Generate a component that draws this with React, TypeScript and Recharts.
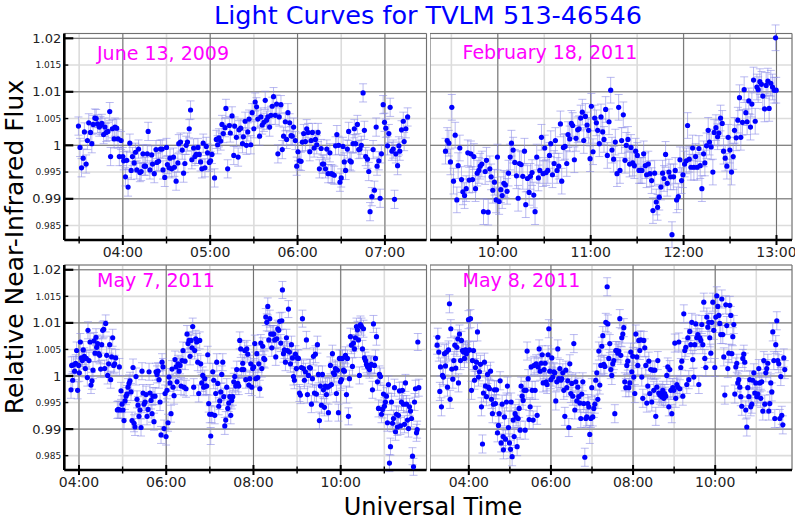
import React from "react";
import { ScatterChart, Scatter, XAxis, YAxis, CartesianGrid, ErrorBar } from "recharts";

// y axis: flux ticks (major ones get big labels, minor ones small)
const yMajor = [0.99, 1, 1.01, 1.02];
const yMinor = [0.985, 0.995, 1.005, 1.015];
const yDomain: [number, number] = [0.9823, 1.0209];

// x axis: hours (UT)
const juneMajor = [4, 5, 6, 7];
const juneMinor = [3.5, 4.5, 5.5, 6.5];
const febMajor = [10, 11, 12, 13];
const febMinor = [9.5, 10.5, 11.5, 12.5];
const mayMajor = [4, 6, 8, 10];
const mayMinor = [5, 7, 9, 11];

// typical 1-sigma error per night
const errJune = 0.0017;
const errFeb = 0.0024;
const errMay7 = 0.0016;
const errMay8 = 0.0017;

// [hour UT, relative flux]
const june13: [number, number][] = [
  [3.492,1.0036],[3.51,0.9996],[3.527,0.9958],[3.546,0.9976],[3.56,1.0025],[3.58,0.9965],[3.595,1.0009],[3.61,1.0042],[3.63,1.0024],[3.645,1.0003],[3.66,1.0039],[3.68,1.0051],[3.695,1.005],[3.71,1.004],[3.73,1.0034],[3.745,1.0037],[3.76,1.0041],[3.78,1.002],[3.795,1.0034],[3.81,1.0024],[3.83,1.0026],[3.85,1.0063],[3.86,0.9979],[3.88,1.0031],[3.9,1.0012],[3.91,1.0034],[3.93,1.0032],[3.945,1.0012],[3.96,0.9979],[3.98,1.0009],
  [4.0,0.9979],[4.01,0.9971],[4.03,0.9941],[4.045,0.9972],[4.06,0.9922],[4.08,1.0004],[4.095,0.9953],[4.11,0.9979],[4.13,0.9967],[4.145,0.9987],[4.16,0.9954],[4.18,0.9993],[4.195,0.9949],[4.21,0.9951],[4.23,0.9984],[4.245,0.9961],[4.26,0.9961],[4.28,0.9984],[4.29,1.0026],[4.31,0.9954],[4.33,0.9982],[4.34,0.9965],[4.36,0.9947],[4.38,0.9992],[4.39,0.9968],[4.41,0.997],[4.43,0.9993],[4.45,0.9993],[4.46,0.9954],[4.48,0.994],
  [4.5,0.9996],[4.51,0.9964],[4.53,0.9958],[4.54,0.9976],[4.56,0.9956],[4.58,0.9978],[4.59,0.9959],[4.61,0.9933],[4.63,0.9967],[4.64,1.0003],[4.66,1.0006],[4.68,0.9991],[4.695,0.9948],[4.71,0.9966],[4.725,1.0],[4.74,1.0006],[4.76,1.0031],[4.775,1.0066],[4.79,0.9973],[4.81,0.9995],[4.825,0.9979],[4.84,0.9983],[4.86,0.9996],[4.875,0.9983],[4.89,0.9969],[4.905,0.9956],[4.92,1.0004],[4.94,0.9958],[4.955,0.9998],[4.97,0.9986],
  [4.99,0.9968],[5.005,0.9971],[5.02,0.9983],[5.05,0.9939],[5.07,1.0011],[5.085,1.0001],[5.1,1.0014],[5.12,1.0008],[5.135,1.0039],[5.15,1.0022],[5.17,1.0033],[5.18,1.0069],[5.2,0.9956],[5.22,1.0037],[5.23,1.0023],[5.25,1.0055],[5.27,0.9981],[5.28,1.0036],[5.3,1.0015],[5.32,0.9978],[5.33,1.0029],[5.35,1.0032],[5.37,1.0003],[5.38,1.0016],[5.4,1.0045],[5.415,1.0],[5.43,1.0025],[5.445,1.0049],[5.465,1.0001],[5.48,1.0061],
  [5.5,1.0031],[5.515,1.0081],[5.53,1.0072],[5.545,1.0049],[5.565,1.0017],[5.58,1.0053],[5.595,1.0038],[5.615,1.0043],[5.63,1.0084],[5.645,1.0047],[5.66,1.0053],[5.68,1.0034],[5.695,1.0056],[5.71,1.0073],[5.725,1.0091],[5.745,1.0056],[5.76,1.0077],[5.775,0.9984],[5.79,1.0053],[5.81,1.0076],[5.825,0.9992],[5.84,1.0017],[5.86,1.0044],[5.875,1.0011],[5.89,1.0061],[5.91,1.0042],[5.925,1.0018],[5.94,1.0017],[5.955,1.0034],[5.975,1.0009],
  [5.99,0.9961],[6.005,0.9988],[6.02,0.9971],[6.04,0.997],[6.055,1.0006],[6.07,1.0022],[6.09,1.0007],[6.105,1.0031],[6.12,1.0024],[6.14,0.9988],[6.155,1.0009],[6.17,1.0024],[6.19,0.9995],[6.205,1.0011],[6.22,1.0001],[6.235,1.0024],[6.25,0.9956],[6.27,0.9994],[6.285,0.9965],[6.3,0.9965],[6.32,0.9956],[6.335,0.9993],[6.35,0.9947],[6.37,0.9986],[6.385,0.9947],[6.4,0.9946],[6.42,0.9944],[6.435,0.9999],[6.45,1.002],[6.47,1.0],
  [6.485,0.9931],[6.5,0.9939],[6.52,0.9998],[6.535,0.9969],[6.55,0.9953],[6.57,0.9993],[6.585,1.0026],[6.6,0.9971],[6.615,0.9969],[6.635,1.0003],[6.65,1.0031],[6.665,1.0003],[6.685,1.0039],[6.7,0.9992],[6.715,0.9993],[6.73,1.0],[6.75,1.0098],[6.765,1.0028],[6.78,0.9979],[6.8,0.9974],[6.815,0.9951],[6.83,0.9876],[6.85,0.9904],[6.865,0.9992],[6.88,0.9916],[6.9,1.0034],[6.91,0.9961],[6.93,0.9971],[6.945,0.9901],[6.96,0.9984],
  [6.98,1.0076],[6.995,1.0043],[7.01,1.0032],[7.03,0.9999],[7.045,1.0022],[7.06,1.0071],[7.08,0.9989],[7.095,0.9993],[7.11,0.9899],[7.125,0.9984],[7.145,0.9962],[7.16,0.9999],[7.17,0.9989],[7.19,1.0029],[7.21,1.0045],[7.22,1.0007],[7.24,1.0031],[7.26,1.0053],
];

const feb18: [number, number][] = [
  [9.437,0.9989],[9.455,1.0009],[9.473,1.0004],[9.49,0.9969],[9.505,1.0071],[9.523,0.9933],[9.541,1.0019],[9.559,0.9898],[9.573,0.9962],[9.591,0.9995],[9.609,0.9936],[9.624,0.9913],[9.642,0.9906],[9.66,0.9919],[9.677,0.9986],[9.692,0.9935],[9.71,0.9984],[9.728,0.9936],[9.742,0.9979],[9.76,0.9919],[9.778,0.9948],[9.796,0.9953],[9.81,0.9961],[9.828,0.9965],[9.846,0.9876],[9.864,0.9951],[9.878,0.9972],[9.896,0.9875],[9.914,0.9956],[9.928,0.9941],
  [9.946,0.9916],[9.964,0.9931],[9.982,0.9898],[9.996,0.9978],[10.014,0.9895],[10.032,0.9917],[10.047,0.9906],[10.065,0.9929],[10.082,0.9926],[10.1,0.9914],[10.115,0.9948],[10.133,0.9978],[10.147,1.0004],[10.165,0.9991],[10.183,0.9968],[10.201,0.9943],[10.219,0.9901],[10.233,0.9966],[10.251,0.9964],[10.269,0.9942],[10.287,0.9989],[10.301,0.9889],[10.319,0.9938],[10.337,0.9912],[10.351,0.9942],[10.369,0.9949],[10.387,0.9907],[10.401,0.9876],[10.419,0.9978],[10.437,0.9939],
  [10.452,0.9953],[10.47,1.0015],[10.487,0.9947],[10.505,0.9995],[10.52,0.9949],[10.538,0.9953],[10.556,0.9981],[10.57,1.0003],[10.588,0.9945],[10.606,0.9966],[10.62,1.0009],[10.638,0.9953],[10.656,0.9961],[10.674,1.004],[10.688,0.9933],[10.706,0.9996],[10.724,0.9998],[10.742,0.9966],[10.756,1.002],[10.774,1.0012],[10.792,1.0041],[10.806,1.0037],[10.824,0.9973],[10.842,1.0013],[10.86,1.0029],[10.875,1.0031],[10.892,1.0051],[10.91,1.0062],[10.925,1.0009],[10.943,1.0054],
  [10.961,1.0038],[10.978,1.0028],[10.993,0.9975],[11.007,1.0073],[11.025,0.9988],[11.043,1.0051],[11.061,1.0042],[11.075,1.0028],[11.093,1.0003],[11.111,1.0053],[11.129,1.0025],[11.143,1.0011],[11.161,1.0067],[11.179,0.9981],[11.197,1.0044],[11.215,1.0103],[11.229,0.9991],[11.247,0.9974],[11.265,1.0006],[11.283,0.9947],[11.301,1.0071],[11.315,0.9953],[11.333,1.0009],[11.351,1.0057],[11.369,0.9972],[11.383,1.0],[11.401,1.0011],[11.419,0.9965],[11.434,0.9996],[11.452,0.9967],
  [11.47,0.9962],[11.484,0.9989],[11.502,0.9981],[11.52,0.9953],[11.538,0.9953],[11.552,0.9953],[11.57,0.9984],[11.588,0.9962],[11.602,0.9945],[11.62,0.9965],[11.638,0.9947],[11.656,0.9934],[11.67,0.9878],[11.688,0.9948],[11.706,0.9894],[11.72,0.9884],[11.738,0.9903],[11.756,0.9922],[11.774,0.9948],[11.789,0.9938],[11.806,0.9983],[11.824,0.9929],[11.842,0.995],[11.86,0.9941],[11.875,0.9833],[11.892,0.9941],[11.91,0.9953],[11.925,0.9898],[11.943,0.9904],[11.961,0.9973],
  [11.978,0.9934],[11.993,0.9945],[12.011,0.9965],[12.029,0.9971],[12.043,1.0037],[12.061,0.9974],[12.079,0.9959],[12.097,0.9995],[12.111,0.9959],[12.129,0.9979],[12.147,0.9959],[12.165,0.9994],[12.179,0.9962],[12.197,0.9919],[12.215,0.9984],[12.229,0.9967],[12.247,0.9999],[12.265,1.0028],[12.279,1.0006],[12.297,0.9997],[12.315,0.995],[12.329,1.0024],[12.348,1.0033],[12.366,1.0016],[12.38,1.0023],[12.398,1.0051],[12.416,1.0041],[12.43,0.9989],[12.448,0.9976],[12.466,0.9961],
  [12.48,1.0015],[12.498,0.9991],[12.516,0.995],[12.534,0.9979],[12.548,1.0028],[12.566,1.0014],[12.584,1.0047],[12.602,1.0089],[12.616,1.0015],[12.634,1.0043],[12.652,1.0104],[12.67,1.0061],[12.684,1.0044],[12.702,1.0083],[12.72,1.0034],[12.735,1.0077],[12.753,1.0122],[12.771,1.0045],[12.789,1.0109],[12.803,1.0104],[12.821,1.0119],[12.839,1.0114],[12.853,1.0092],[12.871,1.0068],[12.889,1.0112],[12.907,1.012],[12.921,1.0069],[12.939,1.0116],[12.957,1.0109],[12.975,1.0103],
  [12.99,1.0201],[12.997,1.0103],
];

const may7: [number, number][] = [
  [3.817,0.9974],[3.832,1.002],[3.855,0.9992],[3.878,1.0021],[3.9,1.0009],[3.924,1.0024],[3.946,1.0048],[3.969,0.9973],[3.992,1.002],[4.008,1.0006],[4.031,1.0064],[4.053,1.0034],[4.076,1.0029],[4.099,1.0049],[4.122,1.0037],[4.145,1.0014],[4.168,1.0033],[4.191,0.9997],[4.206,1.0086],[4.229,1.0029],[4.252,1.0064],[4.275,0.9983],[4.298,0.9991],[4.321,1.0011],[4.344,1.0066],[4.367,1.0043],[4.39,1.0073],[4.405,1.0054],[4.428,1.0061],[4.451,1.0042],
  [4.474,1.0039],[4.497,1.0013],[4.52,1.0059],[4.543,1.0086],[4.566,1.0088],[4.589,1.0014],[4.612,1.0099],[4.635,1.0039],[4.657,1.0001],[4.68,1.0023],[4.703,1.0059],[4.726,0.9993],[4.749,1.0036],[4.772,1.0072],[4.795,1.002],[4.818,1.0023],[4.841,1.0034],[4.879,0.9936],[4.902,0.9937],[4.925,1.0017],[4.94,0.9936],[4.963,0.9972],[4.986,0.9947],[5.009,0.9936],[5.032,0.9916],[5.055,0.9953],[5.078,0.9962],[5.101,0.9966],[5.124,0.9979],[5.147,0.9986],
  [5.17,0.9991],[5.193,0.997],[5.216,0.9916],[5.239,1.0016],[5.262,0.9911],[5.284,0.9904],[5.307,0.9999],[5.33,0.9956],[5.353,0.9945],[5.376,0.9924],[5.399,0.9936],[5.422,0.9903],[5.445,1.0009],[5.468,0.9968],[5.491,0.9947],[5.514,0.9951],[5.537,0.9965],[5.56,0.9924],[5.583,0.9937],[5.606,1.0008],[5.628,0.9968],[5.651,0.9954],[5.674,0.9929],[5.697,0.9962],[5.72,0.9914],[5.743,0.9962],[5.766,1.0008],[5.789,1.0003],[5.812,1.0009],[5.835,0.9993],
  [5.858,0.9951],[5.881,0.9889],[5.904,1.0026],[5.927,1.0017],[5.95,0.9901],[5.973,0.9967],[5.996,0.9886],[6.018,0.9973],[6.041,0.9912],[6.064,0.9998],[6.087,0.9987],[6.11,0.9929],[6.133,1.0013],[6.156,0.9979],[6.179,0.9963],[6.202,1.0031],[6.225,1.0017],[6.248,0.9989],[6.271,1.0023],[6.294,1.0009],[6.317,1.002],[6.34,0.9981],[6.363,1.0029],[6.385,1.0048],[6.408,0.9979],[6.431,1.0028],[6.454,0.9976],[6.477,1.0079],[6.5,1.0061],[6.523,1.0067],
  [6.546,1.0037],[6.569,1.0067],[6.592,1.0053],[6.607,1.0093],[6.63,0.9979],[6.653,1.0048],[6.676,1.007],[6.699,1.0064],[6.722,1.0026],[6.745,0.9967],[6.768,1.0067],[6.791,1.0023],[6.814,0.9987],[6.836,1.0001],[6.859,0.9979],[6.882,0.9995],[6.905,0.9981],[6.928,0.9981],[6.951,1.004],[6.974,0.9948],[6.997,0.9928],[7.02,0.9887],[7.043,0.9928],[7.066,1.0008],[7.089,0.9992],[7.112,0.9926],[7.135,0.9967],[7.158,1.0026],[7.181,0.9986],[7.204,0.9943],
  [7.227,0.9953],[7.25,0.997],[7.273,1.0003],[7.296,1.0026],[7.319,0.9961],[7.342,0.9906],[7.364,0.9917],[7.387,0.9979],[7.41,0.9939],[7.433,0.9949],[7.456,0.9961],[7.479,0.9926],[7.502,0.9954],[7.525,0.9961],[7.548,0.9989],[7.571,0.9999],[7.594,0.9981],[7.617,1.0012],[7.64,0.9986],[7.663,0.9981],[7.685,1.0067],[7.708,1.0051],[7.731,1.0012],[7.754,1.0024],[7.777,1.0012],[7.8,1.0048],[7.823,0.9993],[7.846,1.0051],[7.869,1.0041],[7.892,0.9983],
  [7.915,0.9995],[7.938,1.0023],[7.961,0.9979],[7.984,1.0014],[8.007,1.0017],[8.03,1.0061],[8.053,0.9995],[8.076,1.0042],[8.099,0.9997],[8.122,1.0023],[8.145,0.9976],[8.168,1.0062],[8.191,1.0014],[8.213,1.0056],[8.236,1.0033],[8.259,1.0031],[8.282,1.0111],[8.305,1.0101],[8.328,1.0131],[8.351,1.0068],[8.374,1.0108],[8.397,1.0079],[8.42,1.0053],[8.443,1.0079],[8.466,1.0079],[8.488,1.0068],[8.511,1.0036],[8.534,1.007],[8.557,1.0089],[8.58,1.0086],
  [8.603,1.0103],[8.626,1.0062],[8.649,1.0104],[8.664,1.0162],[8.687,1.0042],[8.71,1.0049],[8.733,1.0026],[8.756,1.0072],[8.779,1.0048],[8.802,1.0126],[8.825,1.0045],[8.848,1.0023],[8.871,1.0059],[8.894,1.0034],[8.917,0.9999],[8.939,0.9992],[8.962,1.0041],[8.985,1.0014],[9.008,1.0034],[9.031,1.0033],[9.054,0.9968],[9.077,0.9964],[9.1,1.0016],[9.123,1.0108],[9.146,1.0014],[9.168,0.9992],[9.191,1.0008],[9.214,1.0068],[9.237,0.9965],[9.26,1.0001],
  [9.283,1.0016],[9.306,1.0015],[9.329,0.9947],[9.352,0.9995],[9.375,1.0037],[9.398,0.9968],[9.42,1.0041],[9.443,0.9966],[9.466,1.0059],[9.489,1.0003],[9.512,0.9916],[9.535,0.9981],[9.558,0.9945],[9.581,1.0003],[9.604,0.9974],[9.627,0.9941],[9.65,0.9981],[9.673,0.9965],[9.696,0.9979],[9.719,0.9931],[9.742,0.9981],[9.764,1.002],[9.787,0.9984],[9.81,1.0042],[9.833,1.0006],[9.856,1.0003],[9.879,1.0014],[9.902,0.9967],[9.925,1.0011],[9.948,0.9931],
  [9.971,1.0033],[9.994,0.9989],[10.017,0.9993],[10.04,1.0033],[10.063,1.0011],[10.086,1.0009],[10.109,1.0039],[10.132,0.9965],[10.155,1.0033],[10.177,0.9924],[10.2,0.9995],[10.223,1.0074],[10.246,1.0058],[10.269,1.0018],[10.292,1.0062],[10.315,1.0051],[10.338,1.0072],[10.361,1.0093],[10.384,1.0087],[10.407,1.0068],[10.43,1.0001],[10.453,1.0097],[10.476,1.0093],[10.499,1.0051],[10.522,1.0089],[10.545,1.0034],[10.568,1.0029],[10.591,1.0022],[10.614,1.0018],[10.636,1.0016],
  [10.659,1.0012],[10.682,1.002],[10.705,1.0022],[10.728,0.9974],[10.751,1.0098],[10.774,1.002],[10.797,1.0033],[10.82,1.0074],[10.843,0.9989],[10.866,0.9939],[10.889,1.0003],[10.912,0.9999],[10.935,0.9928],[10.958,0.9937],[10.981,0.9966],[11.003,0.9943],[11.026,0.9951],[11.049,0.9962],[11.072,0.9912],[11.095,0.9984],[11.118,0.9836],[11.141,0.9867],[11.164,0.9951],[11.187,0.9911],[11.21,0.992],[11.233,0.9978],[11.256,0.9895],[11.279,0.9928],[11.301,0.9904],[11.324,0.9926],
  [11.347,0.9972],[11.37,0.9906],[11.393,0.9951],[11.416,0.9973],[11.439,0.9947],[11.462,0.9909],[11.485,0.9987],[11.508,0.9947],[11.531,0.9917],[11.554,0.9901],[11.577,0.9942],[11.6,0.9934],[11.623,0.992],[11.646,0.9849],[11.669,0.9829],[11.692,0.9951],[11.715,0.9976],[11.738,0.9893],[11.753,0.9899],[11.768,1.0064],[11.791,0.9978],
];

const may8: [number, number][] = [
  [3.229,1.0058],[3.245,1.0073],[3.269,1.0045],[3.294,0.9971],[3.31,1.0017],[3.334,0.9942],[3.359,1.0001],[3.383,0.9998],[3.407,1.0042],[3.432,1.0019],[3.456,1.0045],[3.481,0.9979],[3.505,1.0049],[3.529,1.0136],[3.545,0.9956],[3.562,1.0089],[3.586,1.0013],[3.61,0.9994],[3.635,1.0029],[3.659,1.0058],[3.683,1.0015],[3.708,1.0054],[3.732,1.007],[3.748,0.9987],[3.773,1.0079],[3.797,1.0029],[3.821,1.0067],[3.846,1.0048],[3.87,1.0045],[3.894,1.0033],
  [3.919,1.0049],[3.943,1.0042],[3.968,1.0047],[3.992,1.0106],[4.016,1.0049],[4.041,1.0108],[4.065,0.9973],[4.089,1.0029],[4.114,1.0048],[4.138,0.9992],[4.162,1.0016],[4.187,1.0026],[4.211,1.0083],[4.235,0.9998],[4.26,1.0008],[4.284,1.0022],[4.308,0.9942],[4.333,0.9872],[4.357,0.9968],[4.381,1.0026],[4.406,0.9981],[4.43,0.9961],[4.455,1.0003],[4.479,0.9979],[4.503,0.9976],[4.528,1.0009],[4.552,0.9956],[4.576,0.9929],[4.601,0.9947],[4.625,0.9974],
  [4.649,0.9948],[4.674,0.9974],[4.698,0.9893],[4.722,0.9907],[4.739,0.9929],[4.763,0.9991],[4.787,0.9874],[4.812,0.9947],[4.836,0.9886],[4.844,0.9861],[4.868,0.9923],[4.893,0.9881],[4.917,0.9951],[4.941,0.9981],[4.966,0.9903],[4.99,0.9874],[5.015,0.9862],[5.031,0.9951],[5.055,0.9848],[5.08,0.9917],[5.104,0.9886],[5.128,0.9929],[5.153,0.9923],[5.177,0.9867],[5.201,0.992],[5.226,0.9939],[5.25,0.9898],[5.274,0.9981],[5.299,0.9962],[5.323,0.9954],
  [5.347,0.9973],[5.372,0.9898],[5.396,0.9973],[5.42,1.0047],[5.445,0.9995],[5.469,0.9918],[5.494,0.9942],[5.518,1.0017],[5.542,0.9973],[5.567,0.9917],[5.591,1.002],[5.615,0.9973],[5.64,1.0023],[5.664,0.9926],[5.688,1.0017],[5.713,1.0051],[5.737,1.0009],[5.761,1.0024],[5.786,1.004],[5.81,0.9987],[5.834,1.0012],[5.859,1.0024],[5.883,0.9989],[5.907,0.9984],[5.932,1.004],[5.948,1.0089],[5.972,1.0009],[5.997,0.9993],[6.021,1.0034],[6.045,0.9998],
  [6.07,1.0008],[6.094,1.0006],[6.118,0.9953],[6.143,0.9989],[6.167,1.0051],[6.191,0.9995],[6.216,1.0014],[6.24,0.9992],[6.264,0.9995],[6.289,1.0006],[6.313,0.9973],[6.338,0.9924],[6.362,1.0011],[6.386,0.9978],[6.411,0.9991],[6.435,0.9903],[6.459,1.0023],[6.484,0.9967],[6.508,0.9986],[6.532,0.9962],[6.557,1.0061],[6.581,0.9936],[6.605,0.9989],[6.63,0.9953],[6.654,0.9979],[6.678,0.9961],[6.703,0.9949],[6.727,0.992],[6.751,0.9966],[6.776,0.9989],
  [6.8,0.9948],[6.825,0.9847],[6.849,0.992],[6.873,0.9923],[6.898,0.9948],[6.922,0.9942],[6.946,0.989],[6.971,0.992],[6.995,0.9978],[7.019,0.9923],[7.044,0.9939],[7.068,0.9947],[7.092,0.9992],[7.117,1.0006],[7.141,0.9956],[7.166,1.0047],[7.19,0.9983],[7.214,1.002],[7.239,1.0056],[7.263,1.0076],[7.287,1.0022],[7.312,1.0018],[7.336,1.0101],[7.369,1.0168],[7.385,1.0098],[7.409,1.0033],[7.433,1.0061],[7.458,1.0012],[7.482,1.0001],[7.506,1.0023],
  [7.531,1.0029],[7.555,0.9929],[7.579,1.0048],[7.604,1.0048],[7.628,1.0043],[7.652,1.0047],[7.677,1.0108],[7.701,1.0039],[7.725,1.0072],[7.75,1.0079],[7.774,1.0091],[7.798,0.9989],[7.823,0.9978],[7.847,1.002],[7.871,1.0028],[7.896,0.9978],[7.92,0.9987],[7.944,1.0045],[7.969,1.0008],[7.993,1.0037],[8.018,0.9998],[8.042,0.9967],[8.066,1.0079],[8.091,1.0036],[8.115,1.002],[8.139,1.0067],[8.164,1.0048],[8.188,1.0068],[8.212,0.9998],[8.237,0.9958],
  [8.261,1.0067],[8.285,1.0053],[8.31,1.002],[8.334,0.9949],[8.358,0.9981],[8.383,1.0028],[8.407,0.9967],[8.431,1.0012],[8.456,0.9951],[8.48,1.0011],[8.504,0.9973],[8.529,1.0011],[8.553,0.9924],[8.577,0.9979],[8.602,1.0029],[8.626,0.9968],[8.65,0.9964],[8.675,0.9967],[8.699,0.9961],[8.724,0.9973],[8.748,0.9958],[8.772,0.9967],[8.797,0.9962],[8.821,1.0001],[8.845,1.0017],[8.87,0.9942],[8.894,1.0012],[8.918,0.9973],[8.943,0.9929],[8.967,0.9978],
  [8.992,0.9973],[9.016,1.0062],[9.04,0.9958],[9.065,0.9984],[9.089,0.9979],[9.114,1.0064],[9.138,0.9976],[9.162,1.0016],[9.187,1.0028],[9.211,0.9962],[9.235,1.0117],[9.26,1.0048],[9.284,1.0054],[9.308,0.9984],[9.333,1.0072],[9.357,0.9993],[9.381,1.0084],[9.406,1.0059],[9.43,1.0101],[9.454,1.0031],[9.479,0.9998],[9.503,1.0059],[9.527,1.0098],[9.552,1.0072],[9.576,1.0078],[9.601,0.9984],[9.625,1.0072],[9.649,1.0067],[9.674,1.0097],[9.698,1.0059],
  [9.722,1.0139],[9.747,1.0033],[9.771,1.0016],[9.795,1.0111],[9.82,1.0092],[9.844,1.0101],[9.868,1.0072],[9.893,1.0043],[9.917,1.0101],[9.942,1.0139],[9.966,1.0086],[9.99,1.0016],[10.015,1.0111],[10.039,1.0151],[10.063,1.0131],[10.088,1.0114],[10.112,1.0099],[10.136,1.0078],[10.161,1.0145],[10.185,1.0078],[10.209,1.0036],[10.234,0.9964],[10.258,1.0134],[10.282,1.0095],[10.307,1.0014],[10.331,1.0043],[10.355,1.0133],[10.38,1.0114],[10.404,1.0042],[10.429,1.0074],
  [10.453,1.0097],[10.477,0.9966],[10.502,1.0017],[10.526,1.0024],[10.55,0.9987],[10.574,0.9993],[10.599,0.9979],[10.623,0.9961],[10.647,0.9943],[10.672,1.0033],[10.696,1.0041],[10.72,1.0026],[10.745,0.9936],[10.769,0.9904],[10.793,0.9978],[10.818,0.9961],[10.842,0.9993],[10.866,0.9942],[10.891,0.9947],[10.915,0.9992],[10.94,1.0006],[10.964,0.9968],[10.988,0.9987],[11.013,0.9961],[11.037,0.9966],[11.061,1.0014],[11.086,0.9987],[11.11,0.9958],[11.134,0.9989],[11.159,0.9934],
  [11.183,1.0029],[11.207,0.9947],[11.232,1.0006],[11.256,1.0014],[11.281,1.0024],[11.305,0.9934],[11.329,0.9948],[11.354,0.9987],[11.378,0.997],[11.402,1.0083],[11.427,1.0029],[11.451,0.992],[11.475,1.0059],[11.5,1.0104],[11.524,1.0029],[11.548,1.0023],[11.573,0.992],[11.597,0.9999],[11.621,0.9926],[11.646,0.9908],[11.67,1.0034],[11.694,1.0012],
];

const FONT = "'DejaVu Sans', 'Liberation Sans', sans-serif";
const frameLine = { stroke: "#000", strokeWidth: 2.6 };

const hourLabel = (h: number) => `${h < 10 ? "0" : ""}${h}:00`;

const dot = (q: any) => <circle cx={q.cx} cy={q.cy} r={2.6} fill="#0000ff" />;

function bottomTick(q: any, majors: number[]) {
  const major = majors.includes(q.payload.value);
  const len = major ? 5 : 3.5;
  return (
    <g>
      <line x1={q.x} x2={q.x} y1={q.y - len} y2={q.y + len} stroke="#000" strokeWidth={major ? 2 : 1.4} />
      {major && (
        <text x={q.x} y={q.y + 17} textAnchor="middle" fontSize={14} fill="#222" fontFamily={FONT}>
          {hourLabel(q.payload.value)}
        </text>
      )}
    </g>
  );
}

function topTick(q: any, majors: number[]) {
  const major = majors.includes(q.payload.value);
  return <line x1={q.x} x2={q.x} y1={q.y} y2={q.y + (major ? 8 : 5)} stroke="#000" strokeWidth={major ? 2 : 1.4} />;
}

function leftTick(q: any, labels: boolean) {
  const major = yMajor.includes(q.payload.value);
  return (
    <g>
      <line x1={q.x} x2={q.x + (major ? 9 : 4)} y1={q.y} y2={q.y} stroke="#000" strokeWidth={major ? 2.2 : 1.4} />
      {labels && (
        <text x={q.x - 3} y={q.y} dy={major ? 4.6 : 3.2} textAnchor="end" fontSize={major ? 13 : 9} fill="#222" fontFamily={FONT}>
          {String(q.payload.value)}
        </text>
      )}
    </g>
  );
}

function rightTick(q: any) {
  const major = yMajor.includes(q.payload.value);
  return <line x1={q.x - (major ? 9 : 4)} x2={q.x} y1={q.y} y2={q.y} stroke="#000" strokeWidth={major ? 2.2 : 1.4} />;
}

type PanelProps = {
  data: [number, number][];
  err: number;
  xDomain: [number, number];
  xMajor: number[];
  xMinor: number[];
  yLabels: boolean;
  left: number;
  top: number;
  width: number;
  height: number;
  marginTop: number;
};

function Panel(p: PanelProps) {
  const rows = p.data.map(([t, f]) => ({ t, f, e: p.err }));
  const xTicks = [...p.xMinor, ...p.xMajor].sort((a, b) => a - b);
  const yTicks = [...yMinor, ...yMajor].sort((a, b) => a - b);
  return (
    <div style={{ position: "absolute", left: p.left, top: p.top }}>
      <ScatterChart width={p.width} height={p.height} margin={{ top: p.marginTop, right: 3.5, bottom: 0, left: 0 }}>
        <CartesianGrid xAxisId="b" yAxisId="l" stroke="#dcdcdc" strokeWidth={1.6} />
        <CartesianGrid xAxisId="g" yAxisId="g" stroke="#707070" strokeWidth={1} />
        <Scatter data={rows} xAxisId="b" yAxisId="l" dataKey="f" isAnimationActive={false} shape={dot}>
          <ErrorBar dataKey="e" direction="y" width={4} stroke="#8c8ce8" strokeOpacity={0.6} strokeWidth={1} isAnimationActive={false} />
        </Scatter>
        <XAxis xAxisId="g" hide type="number" dataKey="t" domain={p.xDomain} allowDataOverflow ticks={p.xMajor} height={0} />
        <YAxis yAxisId="g" hide type="number" dataKey="f" domain={yDomain} allowDataOverflow ticks={yMajor} width={0} />
        <XAxis xAxisId="b" type="number" dataKey="t" domain={p.xDomain} allowDataOverflow ticks={xTicks} interval={0}
          height={22} tickSize={0} tickMargin={0} tickLine={false} axisLine={frameLine} tick={(q: any) => bottomTick(q, p.xMajor)} />
        <XAxis xAxisId="t" orientation="top" type="number" dataKey="t" domain={p.xDomain} allowDataOverflow ticks={xTicks} interval={0}
          height={0} tickSize={0} tickMargin={0} tickLine={false} axisLine={frameLine} tick={(q: any) => topTick(q, p.xMajor)} />
        <YAxis yAxisId="l" type="number" dataKey="f" domain={yDomain} allowDataOverflow ticks={yTicks} interval={0}
          width={p.yLabels ? 64.3 : 0} tickSize={0} tickMargin={0} tickLine={false} axisLine={frameLine}
          tick={(q: any) => leftTick(q, p.yLabels)} />
        <YAxis yAxisId="r" orientation="right" type="number" dataKey="f" domain={yDomain} allowDataOverflow ticks={yTicks} interval={0}
          width={0} tickSize={0} tickMargin={0} tickLine={false} axisLine={frameLine} tick={rightTick} />
      </ScatterChart>
    </div>
  );
}

export default function App() {
  return (
    <div style={{ position: "absolute", left: 0, top: 0, width: 800, height: 520, background: "#fff", overflow: "hidden", fontFamily: FONT }}>
      <Panel data={june13} err={errJune} xDomain={[3.33, 7.476]} xMajor={juneMajor} xMinor={juneMinor} yLabels
        left={0} top={0} width={430} height={262} marginTop={33.5} />
      <Panel data={feb18} err={errFeb} xDomain={[9.27, 13.167]} xMajor={febMajor} xMinor={febMinor} yLabels={false}
        left={429.5} top={0} width={365.5} height={262} marginTop={33.5} />
      <Panel data={may7} err={errMay7} xDomain={[3.663, 11.967]} xMajor={mayMajor} xMinor={mayMinor} yLabels
        left={0} top={262} width={430} height={230} marginTop={3} />
      <Panel data={may8} err={errMay8} xDomain={[3.055, 11.87]} xMajor={mayMajor} xMinor={mayMinor} yLabels={false}
        left={429.5} top={262} width={365.5} height={230} marginTop={3} />
      <svg width={800} height={520} style={{ position: "absolute", left: 0, top: 0, pointerEvents: "none" }} fontFamily={FONT}>
        <text x={428} y={24} textAnchor="middle" fontSize={25.5} fill="#0000ff">Light Curves for TVLM 513-46546</text>
        <text transform="translate(22.5,247) rotate(-90)" textAnchor="middle" fontSize={25} fill="#000">Relative Near-Infrared Flux</text>
        <text x={433} y={515} textAnchor="middle" fontSize={24} fill="#000">Universal Time</text>
        <text x={97} y={59.5} fontSize={19} fill="#ff00ff">June 13, 2009</text>
        <text x={462.5} y={58.5} fontSize={19} fill="#ff00ff">February 18, 2011</text>
        <text x={97} y={287} fontSize={19} fill="#ff00ff">May 7, 2011</text>
        <text x={462.5} y={287} fontSize={19} fill="#ff00ff">May 8, 2011</text>
      </svg>
    </div>
  );
}
